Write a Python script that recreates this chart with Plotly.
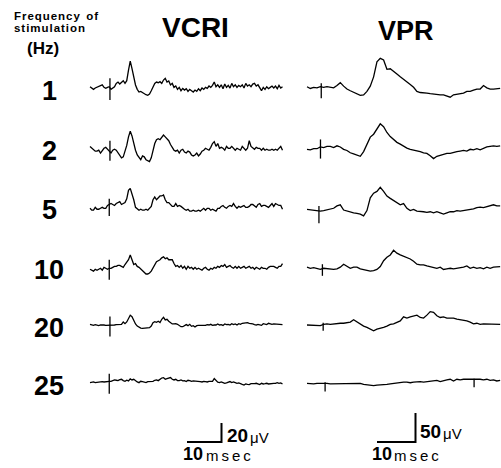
import plotly.graph_objects as go

"""
-Evoked potentials vs stimulation frequency-
"""

freqs = ["1", "2", "5", "10", "20", "25"]

# VCRI traces, one sample every 0.5 ms (0 .. 55 ms), values in microvolts
vcri_step_ms = 0.5
vcri_1hz = [0, -1.4, -2.8, -1.4, -0.7, 0, 1, 2, -0.7, -1.7,
            -0.7, 0, -2.8, -1.7, 0, 3.5, 4.9, 2.8, 4.5, 6.3,
            3.5, 6.3, 17.5, 27, 19, 8.8, 1.8, -2.8, -5.6, -4.9,
            -6.3, -7, -8.4, -9, -7.7, -4.2, 0.7, 3.5, 4.9, 4.2,
            5.3, 3.5, 7, 8.8, 4.9, 6, 1.8, 3.5, -0.7, 0.7,
            -2.8, -0.7, -4.2, -1.8, -3.5, -2.1, -4.9, -2.8, -4.2, -5.6,
            -3.5, -4.9, -2.1, -4.2, -1.4, -2.8, -0.7, -1.8, 0.7, -0.7,
            1.4, 4.9, 0, 2, -0.7, 2, -2.1, 2.8, -0.7, 1.4,
            -1.4, 3.5, 0, 2, -0.7, 1.4, 0, 2, -1.4, 3.5,
            0.7, 2, 0, 2.8, 3.5, 0.7, 2, -1.4, -4.2, -0.7,
            -2.8, 0, -2.1, -0.7, 0.7, -1.4, 0.7, -2.1, 1.4, -1.4,
            0]
vcri_2hz = [2, 0, -1, -3, -3, -2, -5, -2, 0, 1,
            -1, -2, -5, -2, -1, -2, -5, -7, -10, -9,
            -4, 3, 12, 18, 13, 5, -2, -7, -10, -12,
            -8, -9, -12, -13, -14, -10, -2, 5, 9, 10,
            9, 12, 14, 12, 10, 8, 4, 1, -2, -3,
            -2, -5, -2, -1, -4, -5, -3, -4, -7, -8,
            -7, -5, -8, -6, -3, -2, 0, -1, -2, 1,
            5, 7, 2, 5, 0, 1, 0, -2, 2, 0,
            0, 2, 0, -2, 0, -1, -2, 2, 0, -2,
            0, 8, 2, 0, -1, 1, 0, 0, -2, 0,
            -2, -1, -2, -2, -1, -2, -1, -2, 0, 2,
            -2]
vcri_5hz = [0, -2, -2, 1, -1, -1, 0, 1, 0, 0,
            3, 4, 5, 4, 3, 5, 6, 7, 4, 5,
            6, 10, 19, 21, 16, 9, 1, -1, -2, -1,
            -2, -2, -1, -2, 0, 2, 9, 12, 9, 11,
            13, 13, 14, 9, 6, 6, 4, 2, 2, 5,
            2, 3, 2, 0, -1, -2, -1, -3, -3, -2,
            -3, -3, -2, -3, -1, 0, -2, 0, 0, -2,
            -1, -2, -3, 0, 0, 2, 3, 1, 0, 2,
            3, 2, 5, 2, 0, 2, 1, 2, 3, 1,
            1, 2, 4, 4, 2, 1, 4, 5, 2, 3,
            3, 2, 1, 3, 5, 2, 5, 4, 3, 3,
            -1]
vcri_10hz = [-1, -2, -3, -1, -2, -1, 0, -2, 1, 0,
             -1, 0, 0, 1, 2, 2, 3, 3, 2, 1,
             4, 6, 9, 14, 8, 4, 5, 2, 1, -1,
             -2, -5, -6, -6, -5, -3, 0, 4, 7, 8,
             9, 11, 12, 10, 11, 9, 9, 9, 5, 2,
             3, 1, 3, 0, 2, -1, 2, 0, 1, -1,
             1, -1, 0, -1, -2, 0, 1, -1, -2, 0,
             -1, 1, 0, 2, 1, 3, 2, 4, 1, 2,
             3, 1, 0, 2, 0, 2, 0, 1, 2, 0,
             1, 2, 0, 1, -1, 1, 0, -1, 1, 0,
             0, -1, 1, 2, 2, 2, 1, 0, 2, 2,
             5]
vcri_20hz = [0.7, 0, -0.4, 0.4, -0.4, -0.7, 0, 0.4, 0, -0.4,
             -0.4, 0, -0.4, 0, 0, 0.4, 0.4, 0.7, 0.7, 3.2,
             1.4, 3.2, 6.7, 10.2, 8.8, 4.6, 1.1, -1.1, -2.5, -3.2,
             -3.5, -3.5, -3.5, -3.2, -2.8, -1.1, 2.5, 3.5, 2.8, 3.9,
             2.5, 6, 8.1, 5.3, 6, 3.9, 2.5, 1.1, 1.1, 1.4,
             0.7, -0.4, -1.8, -1.8, -0.4, 0.4, -0.7, 0.7, -1.4, -0.7,
             -2.1, -0.7, -0.4, -0.4, -0.7, 0, -0.4, 0.4, 0, 0.7,
             -0.4, 0, 0, 1.1, 0, 0.4, -0.4, 1.1, 0.4, 0.7,
             0, 1.4, 0.4, 1.1, 0, 1.4, 0.7, 1.8, 2.1, 1.8,
             2.5, 1.8, 1.8, 1.1, 0.4, 0, 0.7, 0, -0.4, 1.4,
             0.7, 0.4, 1.8, 1.1, 0.7, 1.1, 1.1, 0.7, 1.1, 0.7,
             0.4]
vcri_25hz = [0.7, 1.1, 1.4, 0.7, 1.1, 1.8, 2.1, 1.8, 1.4, 1.8,
             2.5, 2.1, 2.1, 2.8, 3.5, 3.2, 2.8, 3.9, 4.2, 2.8,
             2.1, 3.2, 2.5, 4.6, 3.5, 4.2, 2.5, 1.4, 0.7, 2.1,
             1.8, 1.1, 0.7, 1.8, 1.8, 1.4, 2.1, 3.2, 3.5, 2.8,
             4.2, 5.6, 6, 4.2, 4.9, 5.6, 6, 4.2, 3.5, 4.2,
             2.8, 2.8, 3.5, 2.5, 2.8, 1.8, 3.2, 2.8, 2.1, 2.5,
             2.5, 1.8, 2.1, 1.8, 1.4, 2.1, 1.8, 1.4, 2.1, 1.8,
             2.1, 4.9, 2.5, 1.1, 0.7, 1.4, 0.7, 0, 0.4, 1.4,
             1.8, 0.7, 1.4, 0.7, 0, 0.4, 0, -1.1, -1.8, -0.7,
             -1.1, -1.4, -0.4, -0.7, -0.4, 0, -1.1, -1.4, 0, -0.7,
             -0.4, 0, -0.7, -0.4, 0.4, 0, 0, 0.7, 0, 0.4,
             -0.7]
vcri = [vcri_1hz, vcri_2hz, vcri_5hz, vcri_10hz, vcri_20hz, vcri_25hz]

# stimulus artifacts on VCRI: time (ms), top and bottom (uV)
vcri_stim_ms = [5.7, 5.7, 5.5, 5.5, 5.7, 5.5]
vcri_stim_hi = [9, 8, 10, 9, 9, 10]
vcri_stim_lo = [-14, -13, -8, -12, -12, -11]

# VPR traces, one sample every 0.865 ms (0 .. ~50 ms), values in microvolts
vpr_step_ms = 0.865
vpr_1hz = [1, -2, 0, -1, 1, 0, 1, 0, -1, 3, 8, 2, -3, -6, -9, -12, -14, -13, -7, 2,
           18, 44, 50, 47, 31, 32, 28, 23, 18, 14, 10, 5, 0, -7, -9, -9, -10, -11, -12, -12,
           -13, -13, -15, -17, -13, -12, -10, -10, -7, -7, -5, -3, -3, 3, -1, -3, -3, -2, -2]
vpr_2hz = [0, -1, 1, 1, 4, 3, 5, 5, 3, 6, 4, 0, -2, -6, -8, -10, -12, -4, 10, 21,
           26, 36, 44, 39, 29, 22, 17, 12, 9, 5, 2, 0, -1, -2, -4, -6, -7, -11, -16, -12,
           -10, -9, -7, -7, -5, -4, -3, -2, -3, 0, -1, 1, -1, 2, 4, 5, 6, 5, 6]
vpr_5hz = [1, 0, -1, -2, -2, -1, 0, 1, 3, 7, 9, 0, -2, -3, -5, -6, -7, -10, -1, 21,
           29, 32, 39, 32, 24, 20, 16, 12, 9, 11, 3, -1, 1, -2, -2, -3, -4, -3, -5, -3,
           -5, -7, -5, -3, -3, -1, -2, -1, -1, 1, 2, 4, 5, 4, 6, 7, 9, 7, 7]
vpr_10hz = [1, -1, 0, -2, -3, -1, -2, -3, -3, -2, 1, 6, 2, -1, 1, 1, -2, -3, -5, -6,
            -5, -3, 2, 12, 18, 22, 30, 25, 22, 20, 18, 15, 11, 6, 5, 5, 3, 2, 1, -1,
            1, -3, -2, -1, -2, -1, -1, 1, 3, -1, 1, -1, 0, -2, 1, -1, 1, 2, 2]
vpr_20hz = [0, 0, -1, -1, -1, 1, 2, 1, 2, 2, 3, 3, 4, 5, 9, 5, 2, -2, -4, -7,
            -10, -7, -6, -4, -2, 1, 2, 4, 7, 14, 12, 14, 16, 17, 13, 12, 17, 23, 22, 16,
            13, 14, 12, 12, 12, 10, 9, 9, 7, 5, 2, 3, 1, 2, 2, 1, 2, 1, 1]
vpr_25hz = [0, -1, -1, 0, 0, 1, 0, -1, -1, 0, -1, -1, -1, 0, -1, -1, 0, -2, -3, -3,
            -4, -3, -3, -2, -2, -1, 0, 1, 1, 2, 2, 1, 2, 3, 3, 2, 3, 3, 4, 5,
            3, 5, 6, 7, 4, 7, 6, 7, 7, 8, 7, 8, 7, 6, 7, 5, 6, 4, 5]
vpr = [vpr_1hz, vpr_2hz, vpr_5hz, vpr_10hz, vpr_20hz, vpr_25hz]

vpr_stim_ms = [[3.7], [3.5], [3.1], [4.0], [4.2], [4.7, 43.4]]
vpr_stim_hi = [[7], [17], [7], [6], [4], [2, 8]]
vpr_stim_lo = [[-19], [-16], [-23], [-14], [-10], [-14, -7]]

"""-Layout (pixels of the 501x468 page)-"""
W, H = 501, 468
vcri_px_ms, vcri_px_uv = 3.45, 0.95   # 10 ms = 34.5 px
vpr_px_ms, vpr_px_uv = 3.85, 0.58     # 10 ms = 38.5 px
vcri_x0, vpr_x0 = 90, 307             # where t = 0 sits
vcri_rows_px = [86.7, 148.3, 208.3, 268.3, 325, 383.3]
vpr_rows_px = [87.3, 149.3, 210, 267.7, 325, 383.3]
line = dict(color="black", width=1.3)

fig = go.Figure()

for i in range(len(freqs)):
    off = vcri_rows_px[i] / vcri_px_uv
    t = [k * vcri_step_ms * 3.5 / vcri_px_ms for k in range(len(vcri[i]))]
    fig.add_trace(go.Scatter(x=t, y=[v - off for v in vcri[i]], mode="lines",
                             line=line, xaxis="x", yaxis="y"))
    ts = vcri_stim_ms[i] * 3.5 / vcri_px_ms
    fig.add_trace(go.Scatter(x=[ts, ts],
                             y=[vcri_stim_hi[i] - off, vcri_stim_lo[i] - off],
                             mode="lines", line=line, xaxis="x", yaxis="y"))

    off = vpr_rows_px[i] / vpr_px_uv
    t = [k * vpr_step_ms for k in range(len(vpr[i]))]
    fig.add_trace(go.Scatter(x=t, y=[v - off for v in vpr[i]], mode="lines",
                             line=line, xaxis="x2", yaxis="y2"))
    sx, sy = [], []
    for s, hi, lo in zip(vpr_stim_ms[i], vpr_stim_hi[i], vpr_stim_lo[i]):
        sx += [s, s, None]
        sy += [hi - off, lo - off, None]
    fig.add_trace(go.Scatter(x=sx, y=sy, mode="lines", line=line,
                             xaxis="x2", yaxis="y2"))

# calibration bars (10 ms horizontal, amplitude vertical)
bar_y = 442
t0 = (187 - vcri_x0) / vcri_px_ms
yb = -bar_y / vcri_px_uv
fig.add_trace(go.Scatter(x=[t0, t0 + 10, t0 + 10], y=[yb, yb, yb + 20], mode="lines",
                         line=dict(color="black", width=2), xaxis="x", yaxis="y"))
t0 = (377 - vpr_x0) / vpr_px_ms
yb = -bar_y / vpr_px_uv
fig.add_trace(go.Scatter(x=[t0, t0 + 10, t0 + 10], y=[yb, yb, yb + 50], mode="lines",
                         line=dict(color="black", width=2), xaxis="x2", yaxis="y2"))

FONT = "Liberation Sans, Arial, sans-serif"
HS = "\u200a"   # hair space, for the letter-spaced captions
TS = "\u2009"   # thin space


def label(text, x, y, size, bold=False, xanchor="center"):
    fig.add_annotation(text=f"<b>{text}</b>" if bold else text,
                       x=x / W, y=1 - y / H, xref="paper", yref="paper",
                       xanchor=xanchor, yanchor="middle", showarrow=False,
                       font=dict(family=FONT, size=size, color="black"))


label(HS.join("Frequency") + "  " + HS.join("of"), 12, 16, 11.5, bold=True, xanchor="left")
label(HS.join("stimulation"), 12, 28, 11.5, bold=True, xanchor="left")
label("(Hz)", 43, 49, 17, bold=True)
label("VCRI", 195, 27, 28, bold=True)
label("VPR", 406, 31, 27, bold=True)

freq_px_y = [91, 151, 210, 270, 328, 386]
for f, y in zip(freqs, freq_px_y):
    label(f, 49, y, 27, bold=True)

label("20", 225, 435, 19, bold=True, xanchor="left")
label("\u03bcV", 248, 437, 15, xanchor="left")
label("10", 181, 454, 18, bold=True, xanchor="left")
label(TS.join("msec"), 204, 455, 15, xanchor="left")
label("50", 418, 431, 19, bold=True, xanchor="left")
label("\u03bcV", 441, 433, 15, xanchor="left")
label("10", 370, 454, 18, bold=True, xanchor="left")
label(TS.join("msec"), 392, 455, 15, xanchor="left")

hidden = dict(visible=False, showgrid=False, zeroline=False, fixedrange=True)
fig.update_layout(
    width=W, height=H,
    margin=dict(l=0, r=0, t=0, b=0),
    paper_bgcolor="white", plot_bgcolor="white",
    showlegend=False,
    xaxis=dict(hidden, domain=[0, 1], range=[-vcri_x0 / vcri_px_ms, (W - vcri_x0) / vcri_px_ms]),
    yaxis=dict(hidden, domain=[0, 1], range=[-H / vcri_px_uv, 0]),
    xaxis2=dict(hidden, domain=[0, 1], overlaying="x",
                range=[-vpr_x0 / vpr_px_ms, (W - vpr_x0) / vpr_px_ms]),
    yaxis2=dict(hidden, domain=[0, 1], overlaying="y", anchor="x2",
                range=[-H / vpr_px_uv, 0]),
)
fig.update_traces(hoverinfo="skip", cliponaxis=False)

# the page body has a default 8px margin; drop it so the figure fills the window
fig.write_html("out.html", config={"displayModeBar": False},
               post_script="document.body.style.margin='0';")
